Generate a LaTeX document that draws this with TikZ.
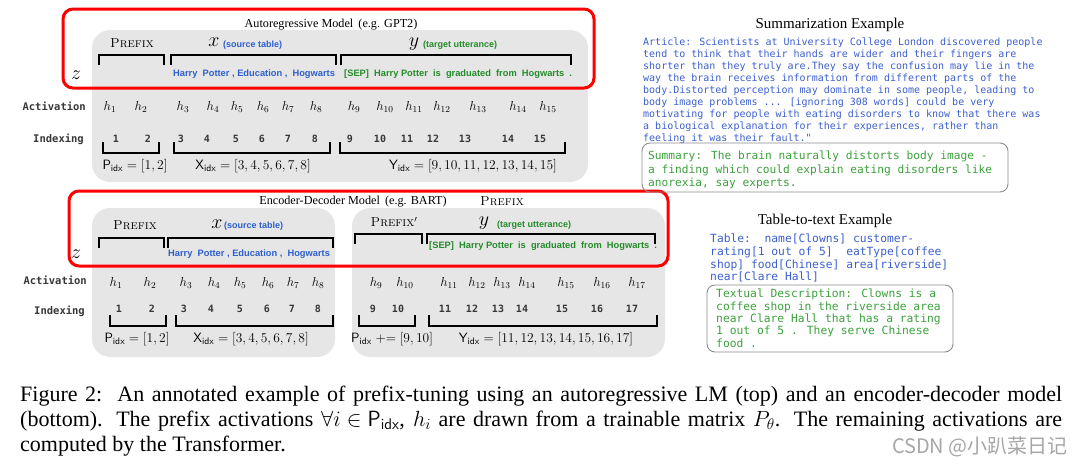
\RequirePackage{fix-cm}
\documentclass[tikz,border=0pt]{standalone}
\usepackage{amsmath,amssymb}
\usepackage{fontspec}
\usepackage{tikz}
\newfontfamily\timesf{Liberation Serif}
\newfontfamily\sansf{Liberation Sans}
\newfontfamily\monof{DejaVu Sans Mono}
\newfontfamily\cjkf{Noto Sans CJK SC}
\definecolor{panelgray}{RGB}{230,230,230}
\definecolor{srcblue}{RGB}{45,95,205}
\definecolor{tgtgreen}{RGB}{35,140,40}
\definecolor{txtblue}{RGB}{60,95,205}
\definecolor{txtgreen}{RGB}{60,160,60}
\definecolor{darktext}{RGB}{55,55,55}
\newcommand{\spantop}[3]{\draw[span] (#1,#3+10) -- (#1,#3) -- (#2,#3) -- (#2,#3+10);}
\newcommand{\spanbot}[3]{\draw[span] (#1,#3-11) -- (#1,#3) -- (#2,#3) -- (#2,#3-11);}
\newcommand{\idxset}[1]{\mathsf{#1}_{\mathsf{idx}}}

\begin{document}
\begin{tikzpicture}[x=1pt,y=-1pt,
  every node/.style={inner sep=0pt},
  model/.style={draw=red,line width=3pt,rounded corners=10pt},
  panel/.style={fill=panelgray,rounded corners=18pt},
  title/.style={font=\timesf\fontsize{12.2}{14}\selectfont},
  seg/.style={font=\fontsize{13}{15}\selectfont\scshape},
  var/.style={font=\fontsize{20}{22}\selectfont},
  note/.style={font=\sansf\bfseries\fontsize{9}{11}\selectfont,anchor=west},
  tok/.style={font=\sansf\bfseries\fontsize{9.3}{11}\selectfont,anchor=west},
  rowlabel/.style={font=\monof\bfseries\fontsize{10.5}{12}\selectfont,text=darktext,anchor=east},
  act/.style={font=\fontsize{13}{15}\selectfont},
  idx/.style={font=\monof\bfseries\fontsize{10}{12}\selectfont,text=darktext},
  span/.style={line width=1.5pt},
  setlabel/.style={font=\fontsize{13.5}{15}\selectfont},
  extitle/.style={font=\timesf\fontsize{15}{17}\selectfont},
  codetext/.style={align=left,anchor=north west},
  exbox/.style={draw=black!45,line width=0.9pt,rounded corners=8pt},
  caption/.style={font=\timesf\fontsize{22}{27}\selectfont,anchor=base west},
  wm/.style={font=\cjkf\fontsize{20}{24}\selectfont,text=black!35,anchor=base east}
]
\useasboundingbox (0,0) rectangle (1080,469);

\fill[panel] (92,30) rectangle (588,182);
\draw[model] (63,9) rectangle (594,88);
\node[title] (arTitle) at (331,25) {Autoregressive Model\, (e.g. GPT2)};
\node[seg] (arPre) at (132,43) {Prefix};
\node[var] (arX) at (214,42) {$x$};
\node[note,text=srcblue] (arXnote) at (223,45) {(source table)};
\node[var] (arY) at (414,44) {$y$};
\node[note,text=tgtgreen] (arYnote) at (423,45) {(target utterance)};
\spantop{99}{164}{55}
\spantop{171}{336}{55}
\spantop{341}{571}{55}
\node[var] (arZ) at (76,75) {$z$};
\node[tok,text=srcblue] (arSrc) at (173,74) {Harry\ \ Potter , Education ,\ \ Hogwarts};
\node[tok,text=tgtgreen] (arTgt) at (344,74) {[SEP]\ \ Harry Potter\ \ is\ \ graduated\ \ from\ \ Hogwarts\ \ .};
\node[rowlabel] (arAct) at (86,106) {Activation};
\node[rowlabel] (arIdx) at (84,139) {Indexing};
\foreach \xx/\k in {110/1,141/2,183/3,213/4,237/5,263/6,288/7,316/8,354/9,385/10,414/11,442/12,478/13,518/14,548/15}
  \node[act] (arH\k) at (\xx,107) {$h_{\k}$};
\foreach \xx/\k in {116/1,148/2,181/3,207/4,236/5,262/6,288/7,315/8,350/9,380/10,407/11,433/12,465/13,508/14,540/15}
  \node[idx] (arN\k) at (\xx,139) {\k};
\spanbot{103}{159}{153}
\spanbot{174}{330}{153}
\spanbot{340}{565}{153}
\node[setlabel] (arPlab) at (135,166) {$\idxset{P} = [1,2]$};
\node[setlabel] (arXlab) at (253,166) {$\idxset{X} = [3,4,5,6,7,8]$};
\node[setlabel] (arYlab) at (473,166) {$\idxset{Y} = [9,10,11,12,13,14,15]$};

\fill[panel] (92,208) rectangle (335,357);
\fill[panel] (352,208) rectangle (665,357);
\draw[model] (69,191) rectangle (668,266);
\node[title] (edTitle) at (353,202) {Encoder-Decoder Model\, (e.g. BART)};
\node[seg] (edPreTop) at (502,201) {Prefix};
\node[seg] (edPre) at (135,225) {Prefix};
\node[var] (edX) at (217,224) {$x$};
\node[note,text=srcblue] (edXnote) at (224,226) {(source table)};
\node[seg] (edPreB) at (394,222) {Prefix$'$};
\node[var] (edY) at (484,223) {$y$};
\node[note,text=tgtgreen] (edYnote) at (497,225) {(target utterance)};
\spantop{99}{164}{238}
\spantop{168}{333}{238}
\spantop{355}{422}{234}
\spantop{427}{655}{234}
\node[var] (edZ) at (76,254) {$z$};
\node[tok,text=srcblue] (edSrc) at (168,254) {Harry\ \ Potter , Education ,\ \ Hogwarts};
\node[tok,text=tgtgreen] (edTgt) at (429,246) {[SEP]\ \ Harry Potter\ \ is\ \ graduated\ \ from\ \ Hogwarts\ \ .};
\node[rowlabel] (edAct) at (87,280) {Activation};
\node[rowlabel] (edIdx) at (85,311) {Indexing};
\foreach \xx/\k in {116/1,150/2,186/3,214/4,240/5,268/6,293/7,318/8,376/9,405/10,449/11,477/12,502/13,527/14,566/15,602/16,637/17}
  \node[act] (edH\k) at (\xx,283) {$h_{\k}$};
\foreach \xx/\k in {119/1,152/2,184/3,211/4,240/5,267/6,292/7,318/8,373/9,398/10,445/11,472/12,498/13,522/14,562/15,597/16,632/17}
  \node[idx] (edN\k) at (\xx,309) {\k};
\spanbot{110}{166}{326}
\spanbot{176}{333}{326}
\spanbot{359}{415}{326}
\spanbot{429}{657}{326}
\node[setlabel] (edPlab) at (137,339) {$\idxset{P} = [1,2]$};
\node[setlabel] (edXlab) at (251,339) {$\idxset{X} = [3,4,5,6,7,8]$};
\node[setlabel] (edPplus) at (392,339) {$\idxset{P} \mathrel{+{=}} [9,10]$};
\node[setlabel] (edYlab) at (546,339) {$\idxset{Y} = [11,12,13,14,15,16,17]$};

\node[extitle] (sumTitle) at (830,25) {Summarization Example};
\node[codetext,text=txtblue,font=\monof\fontsize{10}{12}\selectfont] (sumArticle) at (643,38) {Article: Scientists at University College London discovered people\\
tend to think that their hands are wider and their fingers are\\
shorter than they truly are.They say the confusion may lie in the\\
way the brain receives information from different parts of the\\
body.Distorted perception may dominate in some people, leading to\\
body image problems ... [ignoring 308 words] could be very\\
motivating for people with eating disorders to know that there was\\
a biological explanation for their experiences, rather than\\
feeling it was their fault."};
\draw[exbox] (642,143) rectangle (1008,192);
\node[codetext,text=txtgreen,font=\monof\fontsize{11.2}{13.5}\selectfont] (sumOut) at (648,151) {Summary: The brain naturally distorts body image -\\
a finding which could explain eating disorders like\\
anorexia, say experts.};

\node[extitle] (tabTitle) at (825,221) {Table-to-text Example};
\node[codetext,text=txtblue,font=\monof\fontsize{11.3}{12.6}\selectfont] (tabIn) at (710,234) {Table:\ \ name[Clowns] customer-\\
rating[1 out of 5]\ \ eatType[coffee\\
shop] food[Chinese] area[riverside]\\
near[Clare Hall]};
\draw[exbox] (707,285) rectangle (953,352);
\node[codetext,text=txtgreen,font=\monof\fontsize{11.3}{12.3}\selectfont] (tabOut) at (716,289) {Textual Description: Clowns is a\\
coffee shop in the riverside area\\
near Clare Hall that has a rating\\
1 out of 5 . They serve Chinese\\
food .};

\node[caption] (capA) at (20,401) {\makebox[1042pt][s]{Figure 2:\ \ An annotated example of prefix-tuning using an autoregressive LM (top) and an encoder-decoder model}};
\node[caption] (capB) at (20,426) {\makebox[1042pt][s]{(bottom). The prefix activations \mbox{$\forall i \in \idxset{P}$}, \mbox{$h_i$} are drawn from a trainable matrix \mbox{$P_\theta$}. The remaining activations are}};
\node[caption] (capC) at (20,451) {computed by the Transformer.};
\node[wm] (csdn) at (1068,453) {CSDN @小趴菜日记};
\end{tikzpicture}
\end{document}
